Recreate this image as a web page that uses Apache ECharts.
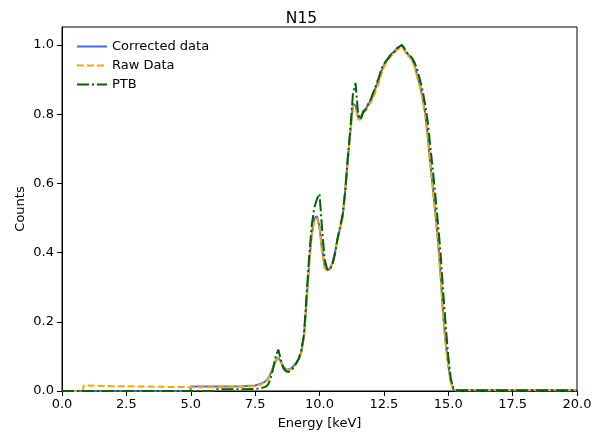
<!DOCTYPE html>
<html>
<head>
<meta charset="utf-8">
<script src="https://cdn.jsdelivr.net/npm/echarts@6/dist/echarts.min.js"></script>
<style>
  html, body { margin: 0; padding: 0; background: #fff; }
  #chart { width: 603px; height: 441px; }
</style>
</head>
<body>
<div id="chart"></div>
<script>
// Energy grid in keV shared by all spectra
const energy = [
  0, 0.8, 0.85, 2, 3, 4, 4.99, 5.0, 5.9, 6.0, 7.0, 7.5, 7.7, 7.9, 8.0, 8.1, 8.2, 8.3, 8.4, 8.5,
  8.6, 8.7, 8.8, 8.9, 9.0, 9.1, 9.2, 9.3, 9.4, 9.5, 9.6, 9.7, 9.8, 9.9, 10.0, 10.1, 10.2, 10.3, 10.4, 10.5,
  10.6, 10.7, 10.8, 10.9, 11.0, 11.1, 11.2, 11.3, 11.4, 11.5, 11.6, 11.7, 11.8, 11.9, 12.0, 12.1, 12.2, 12.3, 12.4, 12.5,
  12.6, 12.7, 12.8, 12.9, 13.0, 13.1, 13.2, 13.3, 13.4, 13.5, 13.6, 13.7, 13.8, 13.9, 14.0, 14.1, 14.2, 14.3, 14.4, 14.5,
  14.6, 14.7, 14.8, 14.9, 15.0, 15.1, 15.2, 15.3, 16, 17, 18, 19, 20
];

// Normalised counts
const corrected = [
  0, 0, 0, 0, 0, 0, 0, 0.013, 0.013, 0.013, 0.014, 0.016, 0.020, 0.028, 0.035, 0.050, 0.070, 0.088, 0.097, 0.085,
  0.070, 0.063, 0.062, 0.065, 0.073, 0.082, 0.093, 0.115, 0.160, 0.260, 0.370, 0.455, 0.500, 0.505, 0.475, 0.410, 0.360, 0.350, 0.352, 0.370,
  0.400, 0.440, 0.470, 0.505, 0.580, 0.670, 0.750, 0.830, 0.825, 0.790, 0.790, 0.810, 0.815, 0.830, 0.840, 0.860, 0.880, 0.900, 0.925, 0.940,
  0.955, 0.965, 0.975, 0.980, 0.990, 0.995, 1.000, 0.985, 0.975, 0.968, 0.958, 0.940, 0.910, 0.885, 0.850, 0.805, 0.740, 0.660, 0.590, 0.515,
  0.435, 0.340, 0.225, 0.140, 0.075, 0.026, 0.004, 0.002, 0.002, 0.002, 0.002, 0.002, 0.002
];

const raw = [
  0, 0, 0.016, 0.014, 0.013, 0.012, 0.011, 0.011, 0.011, 0.011, 0.012, 0.014, 0.018, 0.026, 0.033, 0.048, 0.068, 0.086, 0.095, 0.083,
  0.068, 0.062, 0.060, 0.064, 0.072, 0.080, 0.092, 0.113, 0.158, 0.255, 0.365, 0.450, 0.495, 0.500, 0.470, 0.405, 0.355, 0.348, 0.350, 0.368,
  0.398, 0.437, 0.468, 0.500, 0.575, 0.665, 0.745, 0.825, 0.820, 0.785, 0.785, 0.805, 0.810, 0.825, 0.835, 0.850, 0.870, 0.890, 0.915, 0.935,
  0.950, 0.960, 0.970, 0.975, 0.985, 0.990, 0.995, 0.985, 0.970, 0.965, 0.955, 0.935, 0.905, 0.880, 0.845, 0.800, 0.735, 0.655, 0.585, 0.510,
  0.430, 0.335, 0.220, 0.135, 0.072, 0.025, 0.004, 0.002, 0.002, 0.002, 0.002, 0.002, 0.002
];

const ptb = [
  0, 0, 0, 0, 0, 0, 0, 0, 0, 0.005, 0.005, 0.006, 0.008, 0.012, 0.018, 0.035, 0.065, 0.100, 0.120, 0.090,
  0.065, 0.057, 0.055, 0.060, 0.068, 0.080, 0.095, 0.120, 0.165, 0.280, 0.390, 0.480, 0.530, 0.555, 0.570, 0.470, 0.380, 0.352, 0.350, 0.365,
  0.395, 0.440, 0.475, 0.510, 0.580, 0.675, 0.760, 0.860, 0.890, 0.800, 0.785, 0.805, 0.815, 0.830, 0.845, 0.865, 0.885, 0.905, 0.930, 0.945,
  0.955, 0.965, 0.975, 0.980, 0.990, 0.995, 1.000, 0.990, 0.978, 0.970, 0.962, 0.948, 0.928, 0.900, 0.870, 0.830, 0.780, 0.710, 0.640, 0.565,
  0.485, 0.400, 0.290, 0.190, 0.100, 0.035, 0.008, 0.002, 0.002, 0.002, 0.002, 0.002, 0.002
];

const xTicks = [0, 2.5, 5, 7.5, 10, 12.5, 15, 17.5, 20];
const yTicks = [0, 0.2, 0.4, 0.6, 0.8, 1.0];

const pairs = (ys) => energy.map((e, i) => [e, ys[i]]);
const font = 'DejaVu Sans';

const chart = echarts.init(document.getElementById('chart'), null, { renderer: 'canvas' });
chart.setOption({
  animation: false,
  backgroundColor: '#fff',
  title: {
    text: 'N15', left: 'center', top: 6,
    textStyle: { fontFamily: font, fontSize: 15.5, fontWeight: 'normal', color: '#000' }
  },
  legend: {
    orient: 'vertical', left: 71, top: 35,
    itemWidth: 30, itemHeight: 12, itemGap: 6,
    itemStyle: { opacity: 0 },
    textStyle: { fontFamily: font, fontSize: 13, color: '#000', padding: [0, 0, 0, 0] },
    data: ['Corrected data', 'Raw Data', 'PTB']
  },
  grid: {
    left: 62, right: 26, top: 27, bottom: 50,
    show: true, borderColor: '#000', borderWidth: 1, backgroundColor: 'transparent'
  },
  xAxis: {
    type: 'value', min: 0, max: 20, interval: 2.5,
    name: 'Energy [keV]', nameLocation: 'middle', nameGap: 26, nameMoveOverlap: false,
    nameTextStyle: { fontFamily: font, fontSize: 13, color: '#000' },
    axisLine: { show: true, lineStyle: { color: '#000', width: 1 } },
    axisTick: { show: true, inside: false, length: 5, lineStyle: { color: '#000' }, customValues: xTicks },
    axisLabel: { fontFamily: font, fontSize: 13, color: '#000', margin: 7, customValues: xTicks,
      formatter: (v) => v.toFixed(1) },
    splitLine: { show: false }
  },
  yAxis: {
    type: 'value', min: 0, max: 1.052, interval: 0.2,
    name: 'Counts', nameLocation: 'middle', nameGap: 35, nameMoveOverlap: false,
    nameTextStyle: { fontFamily: font, fontSize: 13, color: '#000' },
    axisLine: { show: true, lineStyle: { color: '#000', width: 1 } },
    axisTick: { show: true, inside: false, length: 5, lineStyle: { color: '#000' }, customValues: yTicks },
    axisLabel: { fontFamily: font, fontSize: 13, color: '#000', margin: 8, customValues: yTicks,
      formatter: (v) => v.toFixed(1) },
    splitLine: { show: false }
  },
  series: [
    {
      name: 'Corrected data', type: 'line', data: pairs(corrected),
      showSymbol: false, symbol: 'none', z: 2,
      itemStyle: { color: '#4169e1' },
      lineStyle: { color: '#4169e1', width: 2 }
    },
    {
      name: 'Raw Data', type: 'line', data: pairs(raw),
      showSymbol: false, symbol: 'none', z: 3,
      itemStyle: { color: '#ffa500' },
      lineStyle: { color: '#ffa500', width: 2, type: [7, 3] }
    },
    {
      name: 'PTB', type: 'line', data: pairs(ptb),
      showSymbol: false, symbol: 'none', z: 4,
      itemStyle: { color: '#006400' },
      lineStyle: { color: '#006400', width: 2, type: [12, 3, 2, 3] }
    }
  ]
});
</script>
</body>
</html>
